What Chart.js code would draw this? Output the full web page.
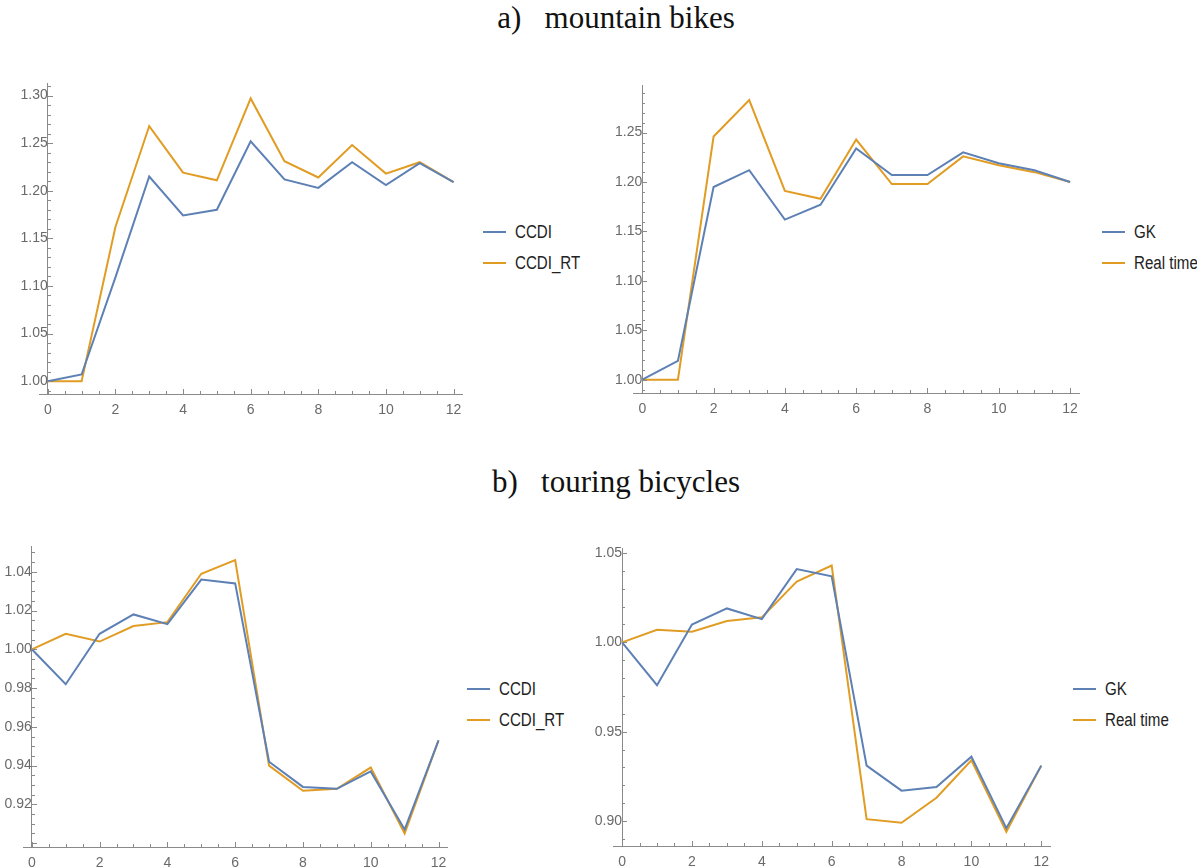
<!DOCTYPE html>
<html lang="en">
<head>
<meta charset="UTF-8">
<title>mountain bikes / touring bicycles</title>
<script src="https://cdn.jsdelivr.net/npm/chart.js@4.4.1/dist/chart.umd.min.js"></script>
<style>
    body { margin: 0; background: #fff; width: 1197px; height: 868px; overflow: hidden; position: relative; }
    canvas { position: absolute; }
    .title { position: absolute; left: 0; width: 1232px; text-align: center; white-space: pre;
             font: 31px/31px "Liberation Serif", "Times New Roman", serif; color: #111; }
    .leg { position: absolute; font: 18px/20px "Liberation Sans", Arial, sans-serif;
           color: #222; white-space: nowrap; }
    .leg i { position: absolute; left: 0; top: 9px; height: 2px; }
    .leg span { position: absolute; top: 0; transform: scaleX(0.84); transform-origin: 0 50%; }
</style>
</head>
<body>
<div class="title" style="top:2px">a)   mountain bikes</div>
<div class="title" style="top:466px">b)   touring bicycles</div>

<canvas id="chartA"></canvas>
<canvas id="chartB"></canvas>
<canvas id="chartC"></canvas>
<canvas id="chartD"></canvas>

<script>
    // time steps
    const steps = [0, 1, 2, 3, 4, 5, 6, 7, 8, 9, 10, 11, 12]
    const xTicks = [0, 2, 4, 6, 8, 10, 12]

    // a) mountain bikes
    const mtbCCDI    = [1.000, 1.007, 1.109, 1.215, 1.174, 1.180, 1.252, 1.212, 1.203, 1.230, 1.206, 1.229, 1.209]
    const mtbCCDI_RT = [1.000, 1.000, 1.162, 1.268, 1.219, 1.211, 1.297, 1.231, 1.214, 1.248, 1.218, 1.230, 1.209]
    const mtbGK      = [1.000, 1.019, 1.195, 1.212, 1.162, 1.177, 1.234, 1.207, 1.207, 1.230, 1.219, 1.212, 1.200]
    const mtbRealTime= [1.000, 1.000, 1.246, 1.283, 1.191, 1.183, 1.243, 1.198, 1.198, 1.226, 1.217, 1.210, 1.200]

    // b) touring bicycles
    const tourCCDI    = [1.000, 0.982, 1.008, 1.018, 1.013, 1.036, 1.034, 0.942, 0.929, 0.928, 0.937, 0.907, 0.953]
    const tourCCDI_RT = [1.000, 1.008, 1.004, 1.012, 1.014, 1.039, 1.046, 0.940, 0.927, 0.928, 0.939, 0.905, 0.953]
    const tourGK      = [1.000, 0.976, 1.010, 1.019, 1.013, 1.041, 1.037, 0.931, 0.917, 0.919, 0.936, 0.896, 0.931]
    const tourRealTime= [1.000, 1.007, 1.006, 1.012, 1.014, 1.034, 1.043, 0.901, 0.899, 0.913, 0.934, 0.894, 0.931]

    // y tick labels
    const yTicksA = [1.00, 1.05, 1.10, 1.15, 1.20, 1.25, 1.30]
    const yTicksB = [1.00, 1.05, 1.10, 1.15, 1.20, 1.25]
    const yTicksC = [0.92, 0.94, 0.96, 0.98, 1.00, 1.02, 1.04]
    const yTicksD = [0.90, 0.95, 1.00, 1.05]

    const namesCCDI = ['CCDI', 'CCDI_RT']
    const namesGK = ['GK', 'Real time']

    const BLUE = '#5e81b5', ORANGE = '#e19c24', AXIS = '#8a8a8a', TICKTXT = '#6a6a6a'
    const TICKFONT = { family: '"Liberation Sans", Arial, sans-serif', size: 14 }

    // Mathematica style ticks pointing into the plot
    const innerTicks = {
        id: 'innerTicks',
        afterDraw(chart, args, o) {
            const { ctx, chartArea } = chart
            const x = chart.scales.x, y = chart.scales.y
            const ax = Math.round(x.getPixelForValue(0)), yb = chartArea.bottom
            ctx.save()
            ctx.strokeStyle = AXIS
            ctx.lineWidth = 1
            ctx.beginPath()
            for (let k = 0; k <= 24; k++) {
                const v = k * 0.5
                const px = Math.round(x.getPixelForValue(v)) + 0.5
                const len = (k % 4 === 0) ? 5 : 3
                ctx.moveTo(px, yb); ctx.lineTo(px, yb - len)
            }
            const s = o.yMinor
            const start = Math.ceil(y.min / s - 1e-6)
            const end = Math.floor(y.max / s + 1e-6)
            for (let k = start; k <= end; k++) {
                const v = k * s
                const py = Math.round(y.getPixelForValue(v)) + 0.5
                const major = Math.abs(v / o.yMajor - Math.round(v / o.yMajor)) < 1e-6
                ctx.moveTo(ax, py); ctx.lineTo(ax + (major ? 5 : 3), py)
            }
            ctx.stroke()
            ctx.restore()
        }
    }

    function makeChart(id, box, names, s1, s2, yMin, yMax, yTicks, yMajor, yMinor) {
        const cv = document.getElementById(id)
        cv.style.left = box.left + 'px'
        cv.style.top = box.top + 'px'
        cv.width = box.width
        cv.height = box.height
        const ds = (name, vals, color) => ({
            label: name,
            data: steps.map((s, i) => ({ x: s, y: vals[i] })),
            borderColor: color,
            borderWidth: 2,
            pointRadius: 0,
            tension: 0,
            fill: false
        })
        return new Chart(cv, {
            type: 'line',
            data: { datasets: [ds(names[0], s1, BLUE), ds(names[1], s2, ORANGE)] },
            plugins: [innerTicks],
            options: {
                responsive: false,
                animation: false,
                layout: { padding: box.pad },
                plugins: {
                    legend: { display: false },
                    tooltip: { enabled: false },
                    innerTicks: { yMinor: yMinor, yMajor: yMajor }
                },
                scales: {
                    x: {
                        type: 'linear',
                        min: -0.26, max: 12.25,
                        afterBuildTicks: s => { s.ticks = xTicks.map(v => ({ value: v })) },
                        afterFit: s => { s.height = 22 },
                        grid: { display: false, drawTicks: false },
                        border: { display: true, color: AXIS, width: 1 },
                        ticks: { color: TICKTXT, font: TICKFONT, padding: 8, maxRotation: 0 }
                    },
                    y: {
                        type: 'linear',
                        position: { x: 0 },
                        min: yMin, max: yMax,
                        afterBuildTicks: s => { s.ticks = yTicks.map(v => ({ value: v })) },
                        grid: { display: false, drawTicks: false },
                        border: { display: true, color: AXIS, width: 1 },
                        ticks: { color: TICKTXT, font: TICKFONT, padding: 5, callback: v => v.toFixed(2) }
                    }
                }
            }
        })
    }

    function makeLegend(left, top, names) {
        const colors = [BLUE, ORANGE]
        names.forEach((n, i) => {
            const d = document.createElement('div')
            d.className = 'leg'
            d.style.left = left + 'px'
            d.style.top = (top + i * 31 - 10) + 'px'
            d.innerHTML = '<i style="width:23px;background:' + colors[i] + '"></i><span style="left:32px">' + n + '</span>'
            document.body.appendChild(d)
        })
    }

    makeChart('chartA', { left: 0, top: 70, width: 472, height: 346, pad: { left: 39, top: 10, right: 10, bottom: 0 } },
        namesCCDI, mtbCCDI, mtbCCDI_RT, 0.9865, 1.3128, yTicksA, 0.05, 0.01)
    makeChart('chartB', { left: 600, top: 72, width: 489, height: 343, pad: { left: 33, top: 11, right: 10, bottom: 0 } },
        namesGK, mtbGK, mtbRealTime, 0.9865, 1.2978, yTicksB, 0.05, 0.01)
    makeChart('chartC', { left: 0, top: 533, width: 457, height: 336, pad: { left: 23, top: 10, right: 10, bottom: 0 } },
        namesCCDI, tourCCDI, tourCCDI_RT, 0.898, 1.0531, yTicksC, 0.02, 0.005)
    makeChart('chartD', { left: 590, top: 535, width: 470, height: 333, pad: { left: 23, top: 10, right: 10, bottom: 0 } },
        namesGK, tourGK, tourRealTime, 0.886, 1.0526, yTicksD, 0.05, 0.01)

    makeLegend(483, 232, namesCCDI)
    makeLegend(1102, 232, namesGK)
    makeLegend(467, 689, namesCCDI)
    makeLegend(1073, 689, namesGK)
</script>
</body>
</html>
